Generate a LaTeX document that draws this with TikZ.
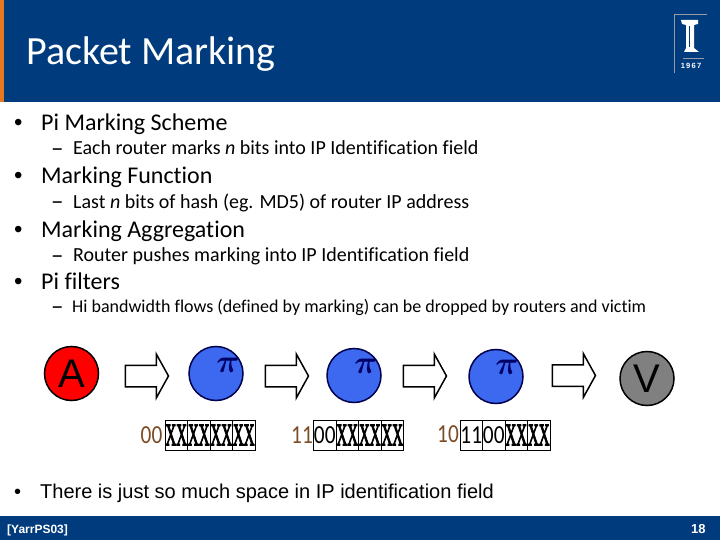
\documentclass[tikz,border=0pt]{standalone}
\usepackage{amsmath}
\usepackage{fontspec}
\usepackage{xcolor}
\usetikzlibrary{shapes.arrows, positioning}
\setmainfont{Carlito}[Ligatures=NoCommon]
\newfontfamily\arialfont{Liberation Sans}
\newfontfamily\xfont{Liberation Serif}[FakeBold=4]
\definecolor{illiniblue}{RGB}{0, 60, 125}
\definecolor{illiniorange}{RGB}{232, 120, 30}
\definecolor{routerblue}{RGB}{60, 105, 240}
\definecolor{markbrown}{RGB}{125, 75, 35}
\definecolor{pillargray}{RGB}{150, 155, 165}
\newcommand{\xx}{\scalebox{.48}[1]{\xfont\fontsize{31}{31}\selectfont XX}}
\newcommand{\bits}[1]{\scalebox{.82}[1]{#1}}
\newcommand{\pisym}{\scalebox{1.3}{$\boldsymbol{\pi}$}}
\tikzstyle{head} = [anchor=base west, inner sep=0, text=white, font=\fontsize{40}{40}\selectfont]
\tikzstyle{item} = [anchor=base west, inner sep=0, font=\fontsize{24}{24}\selectfont]
\tikzstyle{itemdot} = [item, font=\arialfont\fontsize{24}{24}\selectfont]
\tikzstyle{subitem} = [anchor=base west, inner sep=0, font=\fontsize{20}{20}\selectfont]
\tikzstyle{subdash} = [subitem, font=\fontsize{25}{25}\selectfont]
\tikzstyle{host} = [circle, draw=black, line width=1.5pt, minimum size=54pt, inner sep=0, font=\arialfont\fontsize{40}{40}\selectfont]
\tikzstyle{router} = [host, fill=routerblue, draw=black!70!blue]
\tikzstyle{pisign} = [inner sep=0, text=black!60!blue, font=\fontsize{24}{24}\selectfont]
\tikzstyle{hop} = [single arrow, draw=black, fill=white, line width=1.5pt, minimum height=43pt, minimum width=42pt, single arrow head extend=11pt, single arrow tip angle=122, single arrow head indent=0pt, inner xsep=0, inner ysep=10pt]
\tikzstyle{cell} = [rectangle, draw=black, line width=.5pt, minimum width=22.5pt, minimum height=30pt, inner sep=0, font=\fontsize{26}{26}\selectfont]
\tikzstyle{bitmark} = [inner sep=0, text=markbrown, font=\fontsize{26}{26}\selectfont]
\tikzstyle{foot} = [anchor=base west, inner sep=0, text=white, font=\arialfont\bfseries\fontsize{12}{12}\selectfont]
\begin{document}
\begin{tikzpicture}[x=1pt, y=-1pt]
    \useasboundingbox (0, 0) rectangle (720, 540);

    % Banner
    \fill[illiniblue] (0, 0) rectangle (720, 102);
    \fill[illiniorange] (0, 0) rectangle (4, 102);
    \fill[illiniblue] (0, 516) rectangle (720, 540);
    \node[head] (title) at (26, 65) {Packet Marking};

    % Logo
    \draw[pillargray, line width=.8pt] (674, 73) -- (674, 14) -- (707, 14);
    \draw[pillargray, line width=.8pt] (683, 58) -- (704, 58);
    \fill[white] (681, 20) -- (698, 20) -- (698, 24) -- (694, 25) -- (694, 48) -- (699, 52) -- (684, 52) -- (686, 48) -- (686, 25) -- (682, 24) -- cycle;
    \fill[illiniblue] (689, 26) rectangle (690, 47);
    \node[inner sep=0, text=white, font=\arialfont\bfseries\fontsize{7.5}{7.5}\selectfont] (year) at (691, 66) {1\,9\,6\,7};

    % Bullets
    \node[itemdot] (b1) at (14, 131) {•};
    \node[item] (pi1) at (41, 131) {Pi Marking Scheme};
    \node[subdash] (d1) at (51, 157) {–};
    \node[subitem] (s1) at (73, 155) {Each router marks \textit{n} bits into IP Identification field};
    \node[itemdot] (b2) at (14, 184) {•};
    \node[item] (pi2) at (41, 184) {Marking Function};
    \node[subdash] (d2) at (51, 210) {–};
    \node[subitem] (s2) at (73, 208) {Last \textit{n} bits of hash (eg. MD5) of router IP address};
    \node[itemdot] (b3) at (14, 237) {•};
    \node[item] (pi3) at (41, 237) {Marking Aggregation};
    \node[subdash] (d3) at (51, 263) {–};
    \node[subitem] (s3) at (73, 261) {Router pushes marking into IP Identification field};
    \node[itemdot] (b4) at (14, 289) {•};
    \node[item] (pi4) at (41, 289) {Pi filters};
    \node[subdash] (d4) at (51, 314) {–};
    \node[subitem, font=\fontsize{18}{18}\selectfont] (s4) at (72, 312) {Hi bandwidth flows (defined by marking) can be dropped by routers and victim};

    % Hosts and routers
    \node[host, fill=red] (src) at (71.5, 373.5) {A};
    \node[router] (r1) at (216, 373.5) {};
    \node[router] (r2) at (354, 375.5) {};
    \node[router] (r3) at (496, 376.5) {};
    \node[host, fill=black!50] (dst) at (647, 378.5) {V};
    \node[pisign] (p1) at (228, 365) {\pisym};
    \node[pisign] (p2) at (366, 366) {\pisym};
    \node[pisign] (p3) at (507, 367) {\pisym};

    % Block arrows
    \node[hop] (h1) at (144, 376) {};
    \node[hop] (h2) at (284, 376) {};
    \node[hop] (h3) at (422, 376) {};
    \node[hop] (h4) at (571, 375.5) {};

    % Bit fields
    \node[bitmark] (m1) at (151.5, 435.5) {\bits{00}};
    \foreach \i/\t in {0/\xx, 1/\xx, 2/\xx, 3/\xx}
        \node[cell] (a\i) at (176.25 + 22.5*\i, 435) {\t};
    \node[bitmark] (m2) at (302, 435.5) {\bits{11}};
    \foreach \i/\t in {0/\bits{00}, 1/\xx, 2/\xx, 3/\xx}
        \node[cell] (b\i) at (324.75 + 22.5*\i, 435) {\t};
    \node[bitmark] (m3) at (448, 434.5) {\bits{10}};
    \foreach \i/\t in {0/\bits{11}, 1/\bits{00}, 2/\xx, 3/\xx}
        \node[cell] (c\i) at (471.25 + 22.5*\i, 435) {\t};

    % Last line and footer
    \node[item, font=\arialfont\fontsize{20}{20}\selectfont] (b5) at (14, 498) {•};
    \node[item, font=\arialfont\fontsize{20}{20}\selectfont] (last) at (40, 498) {There is just so much space in IP identification field};
    \node[foot] (cite) at (7, 533) {[YarrPS03]};
    \node[foot, font=\arialfont\bfseries\fontsize{13}{13}\selectfont] (page) at (691, 533) {18};
\end{tikzpicture}
\end{document}
